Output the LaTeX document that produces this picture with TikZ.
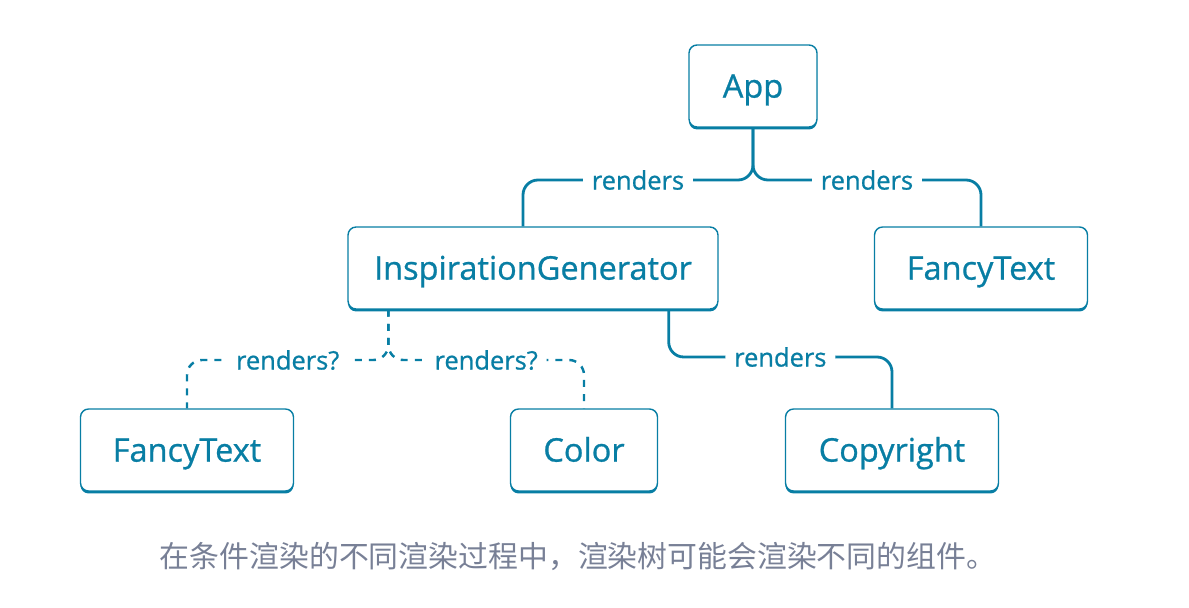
\documentclass[tikz,border=0pt]{standalone}
\usepackage{fontspec}
\setmainfont{Open Sans}
\newfontfamily\boxFont{Open Sans}[FakeBold=0.8]
\newfontfamily\captionFont{Noto Sans CJK SC}
\usetikzlibrary{positioning,shadows}
\definecolor{linkColor}{RGB}{8,126,164}
\definecolor{captionColor}{RGB}{120,128,150}
\tikzstyle{tree} = [x = .02cm, y = -.02cm]
\tikzstyle{component} = [draw=linkColor, line width=.8pt, fill=white, rounded corners=.16cm, text=linkColor, font=\boxFont\fontsize{18.5}{22}\selectfont, text height=13.2pt, text depth=0pt, minimum height=1.64cm, drop shadow={shadow xshift=0pt, shadow yshift=-1.4pt, fill=linkColor, opacity=1}]
\tikzstyle{renders} = [draw=linkColor, line width=1.6pt, rounded corners=.3cm]
\tikzstyle{maybeRenders} = [renders, line width=1.4pt, dash pattern=on 4pt off 4pt]
\tikzstyle{linkText} = [fill=white, text=linkColor, font=\boxFont\fontsize{14.5}{17}\selectfont, inner xsep=5pt]

\begin{document}
\begin{tikzpicture}[tree]
  \useasboundingbox (0,0) rectangle (1189,608);

  % components
  \node [component, minimum width=2.56cm] (app) at (753,86) {App};
  \node [component, minimum width=7.4cm] (inspiration) at (533,268) {InspirationGenerator};
  \node [component, minimum width=4.26cm] (fancyRight) at (981,268) {FancyText};
  \node [component, minimum width=4.26cm] (fancyLeft) at (187,450) {FancyText};
  \node [component, minimum width=2.94cm] (color) at (584,450) {Color};
  \node [component, minimum width=4.26cm] (copyright) at (892,450) {Copyright};

  % App renders
  \draw [renders] (app.south) -- (app.south |- 0,180) -| node [linkText, pos=.25] {renders} ([xshift=-.2cm]inspiration.north);
  \draw [renders] (app.south) -- (app.south |- 0,180) -| node [linkText, pos=.25] {renders} (fancyRight.north);

  % InspirationGenerator renders
  \draw [maybeRenders] ([xshift=.82cm]inspiration.south west) -- ([xshift=.82cm]inspiration.south west |- 0,360) -| node [linkText, pos=.25] {renders?} (fancyLeft.north);
  \draw [maybeRenders] ([xshift=.82cm]inspiration.south west) -- ([xshift=.82cm]inspiration.south west |- 0,360) -| node [linkText, pos=.25] {renders?} (color.north);
  \draw [renders] ([xshift=-1cm]inspiration.south east) -- ([xshift=-1cm]inspiration.south east |- 0,357) -| node [linkText, pos=.25] {renders} (copyright.north);

  \node [text=captionColor, font=\captionFont\fontsize{17}{20}\selectfont] (caption) at (578,556) {在条件渲染的不同渲染过程中，渲染树可能会渲染不同的组件。};
\end{tikzpicture}
\end{document}
